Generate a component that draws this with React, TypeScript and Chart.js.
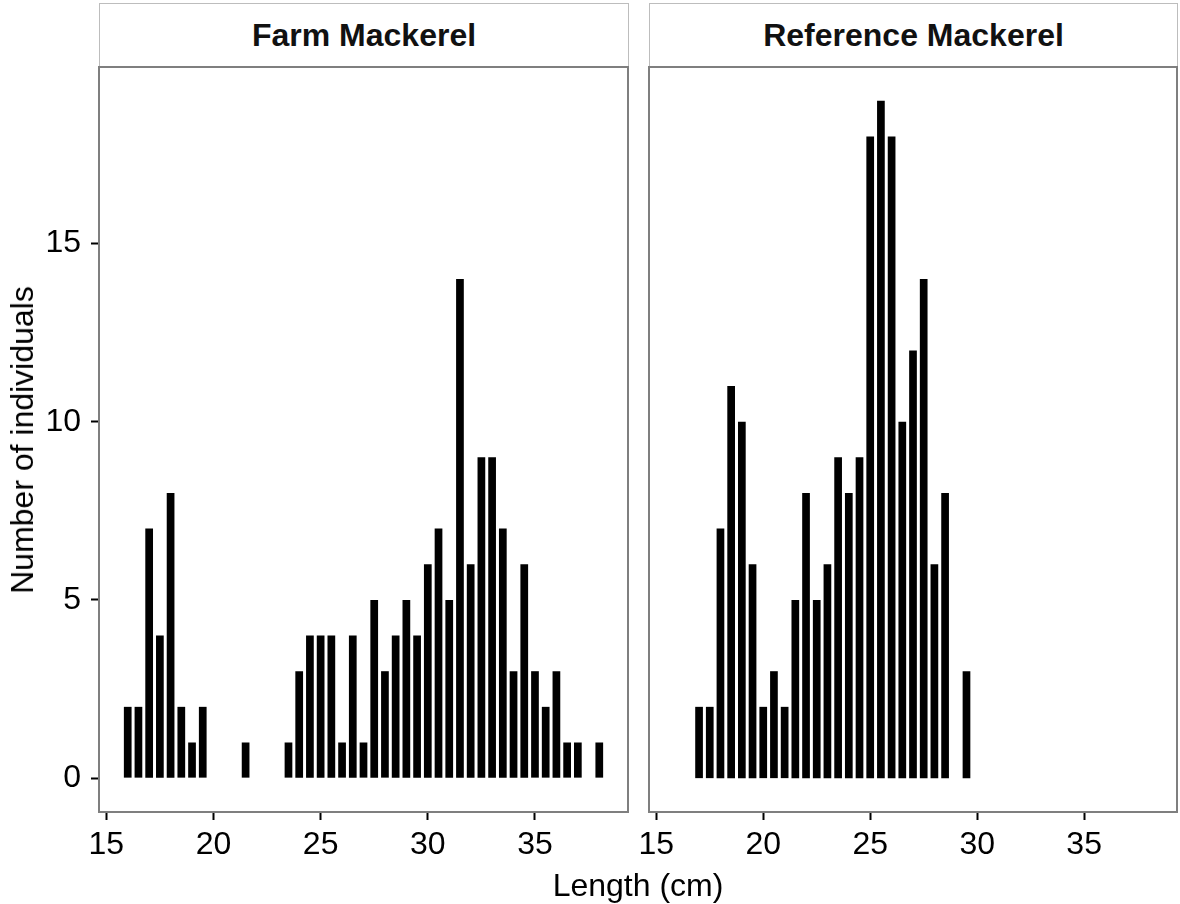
import React, { useEffect, useRef } from "react";
import { Chart, registerables } from "chart.js";

Chart.register(...registerables);

// Length bins (cm, 0.5 cm steps) and number of fish per bin
const farmLengths = [
  16, 16.5, 17, 17.5, 18, 18.5, 19, 19.5, 20, 20.5, 21, 21.5, 22, 22.5, 23, 23.5,
  24, 24.5, 25, 25.5, 26, 26.5, 27, 27.5, 28, 28.5, 29, 29.5, 30, 30.5, 31, 31.5,
  32, 32.5, 33, 33.5, 34, 34.5, 35, 35.5, 36, 36.5, 37, 37.5, 38,
];
const farmCounts = [
  2, 2, 7, 4, 8, 2, 1, 2, 0, 0, 0, 1, 0, 0, 0, 1,
  3, 4, 4, 4, 1, 4, 1, 5, 3, 4, 5, 4, 6, 7, 5, 14,
  6, 9, 9, 7, 3, 6, 3, 2, 3, 1, 1, 0, 1,
];

const referenceLengths = [
  17, 17.5, 18, 18.5, 19, 19.5, 20, 20.5, 21, 21.5, 22, 22.5, 23,
  23.5, 24, 24.5, 25, 25.5, 26, 26.5, 27, 27.5, 28, 28.5, 29, 29.5,
];
const referenceCounts = [
  2, 2, 7, 11, 10, 6, 2, 3, 2, 5, 8, 5, 6,
  9, 8, 9, 18, 19, 18, 10, 12, 14, 6, 8, 0, 3,
];

const panelTitles = ["Farm Mackerel", "Reference Mackerel"];
const xTicks = [15, 20, 25, 30, 35];
const yTicks = [0, 5, 10, 15];

const X_MIN = 14.66;
const X_MAX = 39.34;
const Y_MIN = -0.95;
const Y_MAX = 19.95;

const FONT = "'Liberation Sans', Arial, Helvetica, sans-serif";
const FONT_SIZE = 32;

const panelBorder = {
  id: "panelBorder",
  afterDraw(chart: any) {
    const { ctx, chartArea } = chart;
    const { left, top, right, bottom } = chartArea;
    ctx.save();
    ctx.strokeStyle = "#7f7f7f";
    ctx.lineWidth = 2;
    ctx.strokeRect(left, top, right - left, bottom - top);
    ctx.restore();
  },
};

function makeConfig(lengths: number[], counts: number[], showY: boolean, padding: any) {
  return {
    type: "bar" as const,
    data: {
      datasets: [
        {
          data: lengths.map((x, i) => ({ x, y: counts[i] })),
          backgroundColor: "#000000",
          borderWidth: 0,
          barPercentage: 0.72,
          categoryPercentage: 1,
        },
      ],
    },
    options: {
      animation: false as const,
      responsive: false,
      devicePixelRatio: 1,
      layout: { padding },
      plugins: {
        legend: { display: false },
        tooltip: { enabled: false },
        title: { display: false },
      },
      scales: {
        x: {
          type: "linear" as const,
          min: X_MIN,
          max: X_MAX,
          offset: false,
          afterBuildTicks: (scale: any) => {
            scale.ticks = xTicks.map((v) => ({ value: v }));
          },
          afterFit: (scale: any) => {
            scale.height = 92;
            scale.paddingLeft = 0;
            scale.paddingRight = 0;
          },
          grid: {
            display: true,
            offset: false,
            drawOnChartArea: false,
            drawTicks: true,
            tickLength: 8,
            tickColor: "#000000",
            tickWidth: 2,
          },
          border: { display: false },
          ticks: {
            color: "#000000",
            padding: 6,
            maxRotation: 0,
            autoSkip: false,
            font: { family: FONT, size: FONT_SIZE },
          },
        },
        y: {
          type: "linear" as const,
          display: showY,
          min: Y_MIN,
          max: Y_MAX,
          afterBuildTicks: (scale: any) => {
            scale.ticks = yTicks.map((v) => ({ value: v }));
          },
          afterFit: (scale: any) => {
            scale.width = showY ? 99 : 0;
            scale.paddingTop = 0;
            scale.paddingBottom = 0;
          },
          grid: {
            display: true,
            drawOnChartArea: false,
            drawTicks: true,
            tickLength: 8,
            tickColor: "#000000",
            tickWidth: 2,
          },
          border: { display: false },
          ticks: {
            color: "#000000",
            padding: 10,
            autoSkip: false,
            font: { family: FONT, size: FONT_SIZE },
          },
        },
      },
    },
    plugins: [panelBorder],
  };
}

const stripStyle = (left: number, width: number): React.CSSProperties => ({
  position: "absolute",
  left,
  top: 3,
  width,
  height: 64,
  boxSizing: "border-box",
  border: "1.5px solid #bdbdbd",
  background: "#ffffff",
  display: "flex",
  alignItems: "center",
  justifyContent: "center",
  fontFamily: FONT,
  fontWeight: "bold",
  fontSize: FONT_SIZE,
  color: "#111111",
});

export default function App() {
  const farmRef = useRef<HTMLCanvasElement | null>(null);
  const refRef = useRef<HTMLCanvasElement | null>(null);

  useEffect(() => {
    const charts: Chart[] = [];
    if (farmRef.current) {
      charts.push(
        new Chart(
          farmRef.current,
          makeConfig(farmLengths, farmCounts, true, { top: 7, right: 12, left: 0, bottom: 0 }) as any
        )
      );
    }
    if (refRef.current) {
      charts.push(
        new Chart(
          refRef.current,
          makeConfig(referenceLengths, referenceCounts, false, { top: 7, right: 3, left: 10, bottom: 0 }) as any
        )
      );
    }
    return () => charts.forEach((c) => c.destroy());
  }, []);

  return (
    <div
      style={{
        position: "absolute",
        left: 0,
        top: 0,
        width: 1180,
        height: 904,
        background: "#ffffff",
        overflow: "hidden",
      }}
    >
      <div style={stripStyle(99, 530)}>{panelTitles[0]}</div>
      <div style={stripStyle(649, 529)}>{panelTitles[1]}</div>
      <canvas
        ref={farmRef}
        width={640}
        height={844}
        style={{ position: "absolute", left: 0, top: 60, width: 640, height: 844 }}
      />
      <canvas
        ref={refRef}
        width={541}
        height={844}
        style={{ position: "absolute", left: 639, top: 60, width: 541, height: 844 }}
      />
      <div
        style={{
          position: "absolute",
          left: 99,
          width: 1078,
          top: 866,
          textAlign: "center",
          fontFamily: FONT,
          fontSize: FONT_SIZE,
          color: "#000000",
          lineHeight: "38px",
        }}
      >
        Length (cm)
      </div>
      <div
        style={{
          position: "absolute",
          left: 22,
          top: 440,
          transform: "translate(-50%, -50%) rotate(-90deg)",
          whiteSpace: "nowrap",
          fontFamily: FONT,
          fontSize: FONT_SIZE,
          color: "#000000",
          lineHeight: "38px",
        }}
      >
        Number of individuals
      </div>
    </div>
  );
}
